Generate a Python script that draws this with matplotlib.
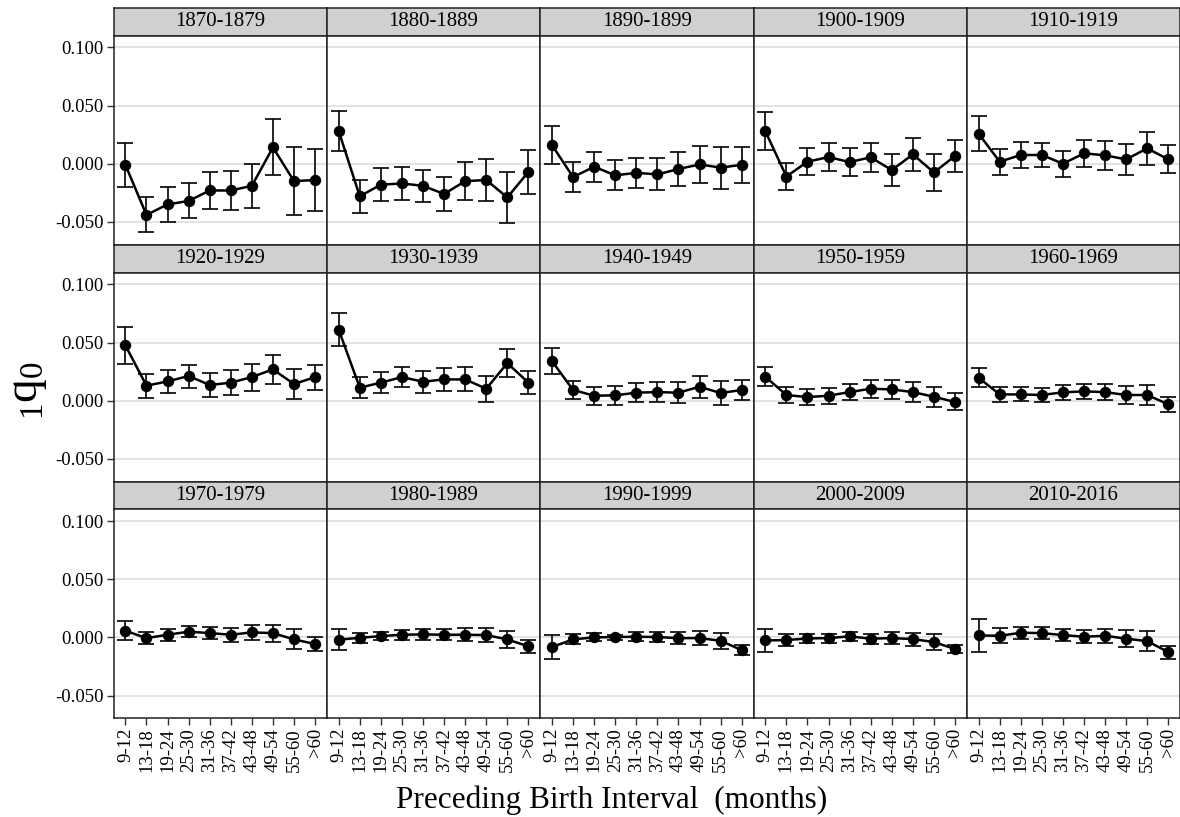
import numpy as np
import matplotlib
matplotlib.use('Agg')
import matplotlib.pyplot as plt

plt.rcParams['font.family'] = ['Liberation Serif', 'DejaVu Serif']
plt.rcParams['mathtext.fontset'] = 'custom'
plt.rcParams['mathtext.rm'] = 'Liberation Serif'
plt.rcParams['mathtext.it'] = 'Liberation Serif:italic'

intervals = ['9-12', '13-18', '19-24', '25-30', '31-36', '37-42', '43-48', '49-54', '55-60', '>60']
periods = ['1870-1879', '1880-1889', '1890-1899', '1900-1909', '1910-1919',
           '1920-1929', '1930-1939', '1940-1949', '1950-1959', '1960-1969',
           '1970-1979', '1980-1989', '1990-1999', '2000-2009', '2010-2016']

# estimated 1q0 and half width of the error bars, per decade
q_1870 = [-0.001, -0.044, -0.035, -0.032, -0.023, -0.023, -0.019, 0.014, -0.015, -0.014]
se_1870 = [0.019, 0.015, 0.015, 0.015, 0.016, 0.017, 0.019, 0.024, 0.029, 0.027]
q_1880 = [0.028, -0.028, -0.018, -0.017, -0.019, -0.026, -0.015, -0.014, -0.029, -0.007]
se_1880 = [0.0175, 0.014, 0.014, 0.014, 0.014, 0.015, 0.0165, 0.018, 0.022, 0.019]
q_1890 = [0.016, -0.0115, -0.0026, -0.010, -0.0078, -0.0092, -0.0046, -0.0006, -0.0034, -0.0009]
se_1890 = [0.0165, 0.013, 0.0128, 0.0128, 0.013, 0.0137, 0.0147, 0.016, 0.018, 0.0155]
q_1900 = [0.028, -0.011, 0.0017, 0.0057, 0.0014, 0.0055, -0.0055, 0.008, -0.0075, 0.0066]
se_1900 = [0.0162, 0.012, 0.0116, 0.0118, 0.012, 0.0124, 0.0135, 0.0145, 0.016, 0.0135]
q_1910 = [0.0259, 0.0017, 0.0075, 0.0075, 0.0, 0.0089, 0.0072, 0.0037, 0.0132, 0.0037]
se_1910 = [0.0154, 0.011, 0.0108, 0.0106, 0.0112, 0.0116, 0.0124, 0.013, 0.0142, 0.012]
q_1920 = [0.0475, 0.0129, 0.0166, 0.0212, 0.0135, 0.0155, 0.0203, 0.0269, 0.0143, 0.0203]
se_1920 = [0.0156, 0.0103, 0.010, 0.0099, 0.0104, 0.0109, 0.0116, 0.0123, 0.0132, 0.0107]
q_1930 = [0.061, 0.0112, 0.0155, 0.0203, 0.0163, 0.0183, 0.0183, 0.0103, 0.0323, 0.0155]
se_1930 = [0.0143, 0.0093, 0.009, 0.0089, 0.0096, 0.0099, 0.0103, 0.0112, 0.0119, 0.0096]
q_1940 = [0.034, 0.0092, 0.0043, 0.0046, 0.0069, 0.0074, 0.0069, 0.012, 0.0066, 0.0092]
se_1940 = [0.0112, 0.008, 0.0077, 0.008, 0.0083, 0.0086, 0.009, 0.0094, 0.010, 0.0083]
q_1950 = [0.0206, 0.0049, 0.0031, 0.0043, 0.0074, 0.0103, 0.0097, 0.0074, 0.0034, -0.0011]
se_1950 = [0.0082, 0.0066, 0.0067, 0.007, 0.0072, 0.0076, 0.0079, 0.0083, 0.0087, 0.0073]
q_1960 = [0.0197, 0.0054, 0.0054, 0.0049, 0.0072, 0.008, 0.0074, 0.0049, 0.0049, -0.0031]
se_1960 = [0.008, 0.0063, 0.006, 0.0063, 0.0063, 0.0066, 0.0069, 0.0077, 0.0089, 0.0067]
q_1970 = [0.0057, -0.0006, 0.0023, 0.0049, 0.0037, 0.0023, 0.0043, 0.0037, -0.0017, -0.0057]
se_1970 = [0.008, 0.005, 0.005, 0.0046, 0.0053, 0.0059, 0.0066, 0.0073, 0.0085, 0.0064]
q_1980 = [-0.002, -0.0003, 0.0011, 0.0023, 0.0026, 0.0023, 0.0023, 0.002, -0.0017, -0.0077]
se_1980 = [0.0089, 0.0044, 0.0037, 0.0042, 0.0046, 0.0049, 0.0054, 0.0062, 0.0073, 0.0059]
q_1990 = [-0.0083, -0.0017, 0.0, 0.0003, 0.0006, 0.0003, -0.0006, -0.0006, -0.0029, -0.0109]
se_1990 = [0.010, 0.0043, 0.0034, 0.0021, 0.004, 0.0043, 0.005, 0.0062, 0.0069, 0.0042]
q_2000 = [-0.0026, -0.0023, -0.0009, -0.0006, 0.0009, -0.0011, -0.0006, -0.0014, -0.004, -0.010]
se_2000 = [0.0096, 0.005, 0.0042, 0.0039, 0.004, 0.0044, 0.0049, 0.0056, 0.0067, 0.0037]
q_2010 = [0.0017, 0.0014, 0.004, 0.0037, 0.002, 0.0006, 0.0014, -0.0011, -0.0032, -0.0126]
se_2010 = [0.0139, 0.0063, 0.005, 0.0049, 0.0054, 0.0057, 0.0062, 0.0072, 0.0083, 0.0056]

q_vals = [q_1870, q_1880, q_1890, q_1900, q_1910, q_1920, q_1930, q_1940,
          q_1950, q_1960, q_1970, q_1980, q_1990, q_2000, q_2010]
q_errs = [se_1870, se_1880, se_1890, se_1900, se_1910, se_1920, se_1930, se_1940,
          se_1950, se_1960, se_1970, se_1980, se_1990, se_2000, se_2010]

W, H = 1180, 817
fig = plt.figure(figsize=(W / 100, H / 100), dpi=100)

left, pw = 113.6, 213.3
strip_h, plot_h = 27.7, 209.0
row_top = [8.0, 245.0, 481.7]


def frac(x, y, w, h):
    return [x / W, 1 - (y + h) / H, w / W, h / H]


x = np.arange(len(intervals))
for i, per in enumerate(periods):
    r, c = divmod(i, 5)
    x0 = left + c * pw
    y0 = row_top[r]

    # strip
    sax = fig.add_axes(frac(x0, y0, pw, strip_h))
    sax.set_facecolor('#d0d0d0')
    sax.set_xticks([])
    sax.set_yticks([])
    for s in sax.spines.values():
        s.set_color('#222222')
        s.set_linewidth(1.1)
    sax.text(0.5, 0.5, per, ha='center', va='center', fontsize=15, transform=sax.transAxes)

    ax = fig.add_axes(frac(x0, y0 + strip_h, pw, plot_h))
    ax.errorbar(x, q_vals[i], yerr=q_errs[i], fmt='-o', color='black', lw=1.8,
                elinewidth=1.2, capsize=5.5, capthick=1.2, markersize=7.2, zorder=3)
    ax.set_xlim(-0.56, 9.56)
    ax.set_ylim(-0.0696, 0.110)
    ax.set_yticks([-0.05, 0.0, 0.05, 0.10])
    ax.set_xticks(x)
    ax.grid(axis='y', color='#e3e3e3', lw=1.4)
    ax.set_axisbelow(True)
    for s in ax.spines.values():
        s.set_color('#222222')
        s.set_linewidth(1.1)
    ax.tick_params(direction='out', length=5, width=1.0, color='#333333',
                   labelsize=13.5, labelcolor='black', pad=2)
    if c == 0:
        ax.set_yticklabels(['%.3f' % v for v in [-0.05, 0.0, 0.05, 0.10]])
    else:
        ax.tick_params(axis='y', length=0, labelleft=False)
    if r == 2:
        ax.set_xticklabels(intervals, rotation=90)
    else:
        ax.tick_params(axis='x', length=0, labelbottom=False)

fig.text(28 / W, 1 - 390 / H, r'${}_{1}\mathrm{q}_{0}$', rotation=90,
         ha='center', va='center', fontsize=34)
fig.text(612 / W, 1 - 800 / H, 'Preceding Birth Interval  (months)',
         ha='center', va='center', fontsize=22.5)

fig.savefig('out.png', dpi=100)
